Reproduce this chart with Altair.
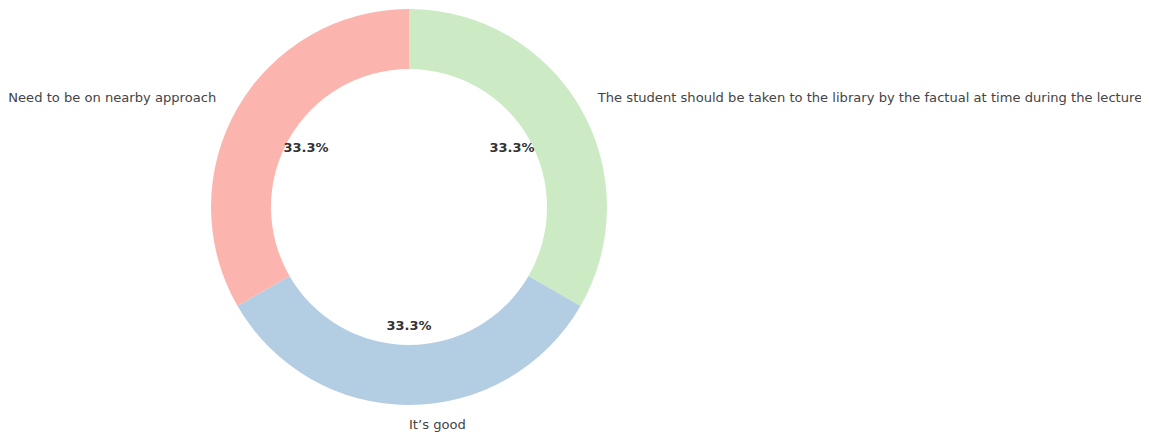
import altair as alt
import pandas as pd

categories = ["The student should be taken to the library by the factual at time during the lecture",
              "It\u2019s good",
              "Need to be on nearby approach"]
counts = [1, 1, 1]
colors = ["#ccebc5", "#b3cde3", "#fbb4ae"]
aligns = ["left", "left", "right"]
order = [0, 1, 2]

df = pd.DataFrame({"category": categories, "count": counts, "align": aligns, "ord": order})
total = float(sum(counts))
df["pct_label"] = [f"{c / total * 100:.1f}%" for c in counts]

cx, cy = 401, 199
theta_scale = alt.Scale(domain=[0, total], range=[0, 6.283185307179586])

base = alt.Chart(df).transform_stack(
    stack="count", groupby=[], as_=["start", "end"], sort=[alt.SortField("ord", order="ascending")]
).transform_calculate(
    mid="(datum.start + datum.end) / 2"
).encode(
    x=alt.value(cx), y=alt.value(cy),
)

arc = base.mark_arc(outerRadius=198, innerRadius=138, strokeWidth=0).encode(
    theta=alt.Theta("start:Q", scale=theta_scale, stack=None),
    theta2="end:Q",
    color=alt.Color("category:N", scale=alt.Scale(domain=categories, range=colors), legend=None),
)

pct = base.mark_text(fontSize=13, fontWeight="bold", color="#333333", font="DejaVu Sans",
                     baseline="middle", align="center").encode(
    theta=alt.Theta("mid:Q", scale=theta_scale, stack=None),
    radius=alt.value(119), text="pct_label:N",
)

lbl_left = base.mark_text(fontSize=13.1, color="#444444", font="DejaVu Sans",
                          baseline="middle", align="left").transform_filter(
    alt.datum.align == "left"
).encode(
    theta=alt.Theta("mid:Q", scale=theta_scale, stack=None),
    radius=alt.value(218), text="category:N",
)

lbl_right = base.mark_text(fontSize=13.1, color="#444444", font="DejaVu Sans",
                           baseline="middle", align="right", dx=-4).transform_filter(
    alt.datum.align == "right"
).encode(
    theta=alt.Theta("mid:Q", scale=theta_scale, stack=None),
    radius=alt.value(218), text="category:N",
)

chart = alt.layer(arc, pct, lbl_left, lbl_right).properties(
    width=1133, height=427, padding=0, autosize=alt.AutoSizeParams(type="none")
).configure_view(stroke=None)

chart.save("out.html", embed_options={"renderer": "svg", "actions": False})
